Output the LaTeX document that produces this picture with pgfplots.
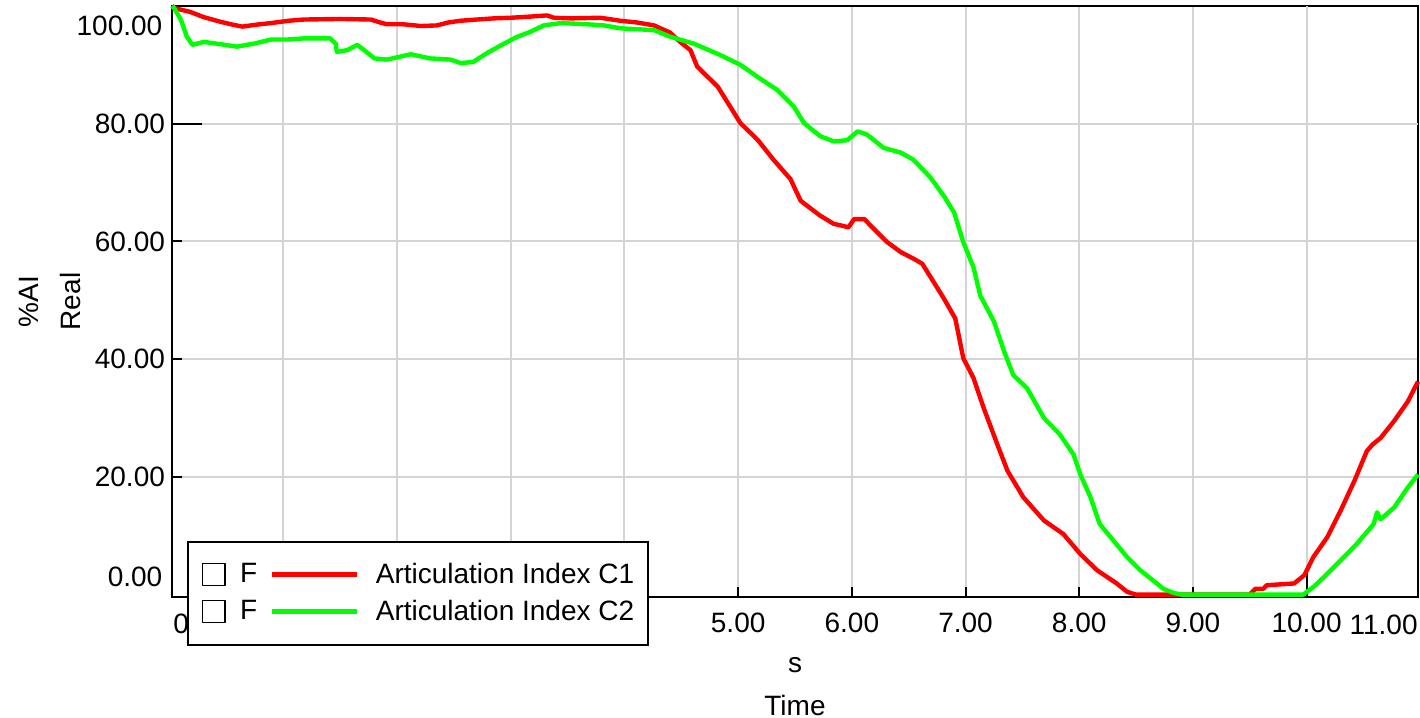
\documentclass[border=0pt]{standalone}
\usepackage{pgfplots}
\pgfplotsset{compat=1.18}
\usepackage{fontspec}
\setmainfont{Liberation Sans}
\definecolor{cred}{RGB}{255,0,0}
\definecolor{cgreen}{RGB}{0,255,0}
\definecolor{cgrid}{RGB}{212,212,212}
\newcommand{\lf}{\fontsize{14}{16}\selectfont}
\begin{document}
\begin{tikzpicture}
\useasboundingbox (-86pt,-60.5pt) rectangle (624pt,298.5pt);
\begin{axis}[
  name=ax,
  at={(0,0)}, anchor=south west,
  scale only axis,
  width=623pt, height=295.5pt,
  xmin=0.02, xmax=10.98,
  ymin=-0.4, ymax=100,
  clip=false,
  axis line style={black, line width=1pt},
  tick pos=left,
  xtick={1,2,3,4,5,6,7,8,9},
  xticklabels={,,,,5.00,6.00,7.00,8.00,9.00},
  ytick={20,40,60},
  yticklabels={20.00,40.00,60.00},
  extra x ticks={10}, extra x tick labels={10.00},
  extra y ticks={80}, extra y tick labels={80.00},
  extra tick style={grid=major, major tick length=15pt},
  tick align=inside,
  major tick length=5pt,
  tick style={black, line width=1pt},
  grid=major,
  grid style={cgrid, line width=1pt},
  ticklabel style={font=\lf, black},
  xticklabel style={yshift=-4.3pt},
  xlabel={s},
  xlabel style={font=\lf, at={(axis description cs:0.5,0)}, anchor=base, yshift=-37.5pt},
  ylabel={Real},
  ylabel style={font=\lf, at={(axis description cs:-0.0738,0.5)}, anchor=base},
  legend cell align=left,
  legend image code/.code={
    \draw[black, line width=0.7pt, fill=white] (0pt,-5.5pt) rectangle (11.2pt,5.5pt);
    \node[inner sep=0pt, font=\lf, text=black, anchor=center] at (23pt,0pt) {F};
    \draw[#1, line width=2.6pt] (34.6pt,0pt) -- (77.1pt,0pt);
  },
  legend style={
    at={(axis description cs:0.012,0.0953)}, anchor=north west,
    draw=black, line width=1pt, fill=white,
    font=\lf,
    inner xsep=7pt, inner ysep=10.7pt,
    row sep=6.7pt,
    nodes={inner sep=0pt},
    /tikz/every odd column/.append style={column sep=8.2pt},
  },
]
\node[font=\lf, anchor=north west, inner sep=0pt, yshift=-8.3pt, xshift=0.5pt] at (rel axis cs:0,0) {0.00};
\addplot[cred, line width=2.2pt, line join=round] coordinates {
(0.02,100) (0.05,99.6) (0.18,99.0) (0.30,98.1) (0.45,97.3) (0.56,96.8) (0.64,96.5)
(0.75,96.8) (0.89,97.1) (1.05,97.5) (1.18,97.7) (1.5,97.8) (1.77,97.7) (1.85,97.2)
(1.91,96.9) (2.05,96.9) (2.21,96.6) (2.35,96.7) (2.45,97.2) (2.56,97.5) (2.70,97.7)
(2.85,97.9) (3.0,98.0) (3.17,98.2) (3.32,98.4) (3.38,98.0) (3.53,97.9) (3.79,98.0)
(3.96,97.5) (4.11,97.2) (4.26,96.7) (4.40,95.5) (4.49,93.9) (4.58,92.5) (4.64,89.7)
(4.73,88.0) (4.82,86.3) (4.93,82.9) (5.02,80.1) (5.17,77.3) (5.31,73.9) (5.46,70.6)
(5.55,66.9) (5.72,64.4) (5.84,63.0) (5.93,62.6) (5.97,62.4) (6.02,63.8) (6.11,63.8)
(6.20,62.0) (6.31,59.9) (6.43,58.2) (6.55,57.0) (6.62,56.2) (6.72,53.1) (6.81,50.3)
(6.91,46.9) (6.98,40.2) (7.07,36.8) (7.16,31.7) (7.28,25.5) (7.37,21.0) (7.51,16.5)
(7.69,12.6) (7.86,10.3) (8.01,6.9) (8.16,4.1) (8.33,1.9) (8.42,0.5) (8.5,0) (9.5,0)
(9.55,1.0) (9.62,1.0) (9.65,1.6) (9.89,1.9) (9.98,3.3) (10.06,6.4) (10.18,9.7)
(10.30,14.3) (10.42,19.3) (10.53,24.4) (10.58,25.5) (10.65,26.6) (10.77,29.5)
(10.89,32.8) (10.98,36.2)
};
\addlegendentry{Articulation Index C1}
\addplot[cgreen, line width=2.2pt, line join=round] coordinates {
(0.02,100) (0.04,99.6) (0.1,97.6) (0.15,94.8) (0.2,93.4) (0.3,93.9) (0.45,93.5)
(0.59,93.1) (0.74,93.6) (0.89,94.3) (1.03,94.3) (1.18,94.5) (1.41,94.5) (1.46,93.6)
(1.47,92.2) (1.56,92.5) (1.65,93.4) (1.71,92.5) (1.80,91.1) (1.91,90.9) (2.12,91.8)
(2.29,91.1) (2.47,90.9) (2.56,90.3) (2.67,90.5) (2.79,92.0) (2.94,93.6) (3.06,94.8)
(3.17,95.6) (3.29,96.7) (3.44,97.1) (3.67,96.9) (3.82,96.7) (3.97,96.2) (4.26,95.9)
(4.40,94.8) (4.61,93.6) (4.84,91.7) (5.02,90.0) (5.19,87.7) (5.34,85.8) (5.49,82.9)
(5.58,80.1) (5.72,77.9) (5.84,77.0) (5.96,77.2) (6.05,78.7) (6.13,78.2) (6.28,75.9)
(6.43,75.1) (6.54,73.9) (6.69,70.9) (6.81,67.7) (6.90,64.9) (6.98,59.9) (7.07,55.6)
(7.13,50.8) (7.25,46.4) (7.34,41.3) (7.42,37.3) (7.54,35.1) (7.69,30.0) (7.83,27.2)
(7.95,23.8) (8.01,20.4) (8.10,16.5) (8.18,12.0) (8.30,9.2) (8.42,6.4) (8.54,4.1)
(8.65,2.4) (8.74,1.0) (8.83,0.3) (8.9,0) (9.97,0) (10.06,1.3) (10.18,3.5) (10.33,6.4)
(10.44,8.6) (10.59,12.0) (10.62,14.0) (10.65,12.8) (10.77,14.8) (10.89,18.2) (10.98,20.4)
};
\addlegendentry{Articulation Index C2}
\end{axis}
\node[font=\lf, anchor=north east, inner sep=4.67pt] at (ax.north west) {100.00};
\node[font=\lf, anchor=south east, inner sep=4.67pt] at (ax.south west) {0.00};
\node[font=\lf, anchor=north east, inner sep=0pt, yshift=-9pt] at (ax.south east) {11.00};
\node[font=\lf, anchor=base, yshift=-59pt] at (ax.south) {Time};
\node[font=\lf, anchor=base, rotate=90] at ([xshift=-66.75pt]ax.west) {\%AI};
\end{tikzpicture}
\end{document}
